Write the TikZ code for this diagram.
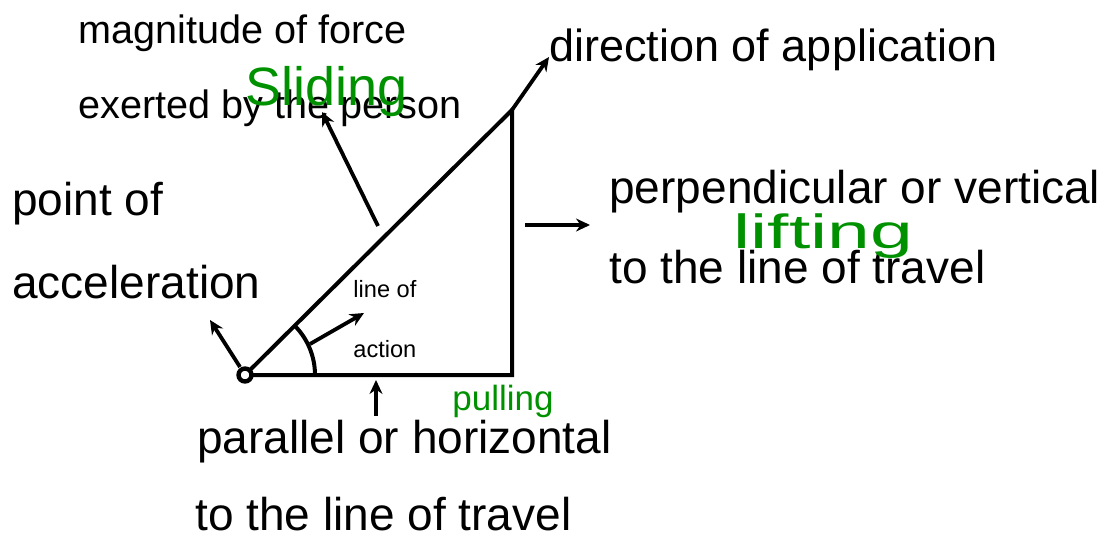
\documentclass[tikz,border=0pt]{standalone}
\usepackage{fontspec}
\setmainfont{Liberation Sans}
\usetikzlibrary{arrows.meta}
\definecolor{pen}{RGB}{0,145,0}
\begin{document}
\begin{tikzpicture}[x=0.5pt,y=-0.5pt,
  edge/.style={line width=2pt},
  arr/.style={line width=1.9pt,-{Stealth[length=7pt,width=6.5pt]}},
  lab/.style={anchor=base west,inner sep=0pt},
  bigtxt/.style={lab,font=\fontsize{23pt}{27pt}\selectfont},
  dirtxt/.style={lab,font=\fontsize{22.5pt}{26pt}\selectfont},
  midtxt/.style={lab,font=\fontsize{19.8pt}{23pt}\selectfont},
  smalltxt/.style={lab,font=\fontsize{11.8pt}{14pt}\selectfont},
  hand/.style={lab,text=pen}]
\useasboundingbox (0,0) rectangle (1112,540);
% triangle corners
\coordinate (O) at (245,375);
\coordinate (T) at (512,110);
\coordinate (B) at (512,375);
\draw[edge,line join=miter] (O) -- (T) -- (B) -- cycle;
% angle arc
\draw[edge] (O) ++(35pt,0pt) arc[start angle=0,end angle=45,radius=35pt];
\node[circle,draw,fill=white,line width=2.2pt,inner sep=0pt,minimum size=6.5pt] (pt) at (O) {};
% arrow anchor coordinates
\coordinate (pa0) at (240,367); \coordinate (pa1) at (210,320);
\coordinate (la0) at (310,344); \coordinate (la1) at (364,313);
\coordinate (ma0) at (378,226); \coordinate (ma1) at (322,112);
\coordinate (da1) at (549,57);
\coordinate (pe0) at (525,225); \coordinate (pe1) at (590,225);
\coordinate (pl0) at (376,416); \coordinate (pl1) at (376,380);
\draw[arr] (pa0) -- (pa1);
\draw[arr] (la0) -- (la1);
\draw[arr] (ma0) -- (ma1);
\draw[arr] (T) -- (da1);
\draw[arr] (pe0) -- (pe1);
\draw[arr] (pl0) -- (pl1);
% labels
\node[midtxt] (mag1) at (78,44) {magnitude of force};
\node[midtxt] (mag2) at (78,119) {exerted by the person};
\node[dirtxt] (dir) at (549,62) {direction of application};
\node[bigtxt] (poi) at (12,215) {point of};
\node[bigtxt] (acc) at (12,298) {acceleration};
\node[bigtxt] (per) at (609,203) {perpendicular or vertical};
\node[bigtxt] (per2) at (609,283) {to the line of travel};
\node[bigtxt] (par) at (197,453) {parallel or horizontal};
\node[bigtxt] (par2) at (195,530) {to the line of travel};
\node[smalltxt] (lo1) at (353,297) {line of};
\node[smalltxt] (lo2) at (353,357) {action};
% handwritten notes
\node[hand,font=\fontsize{27pt}{30pt}\selectfont] (sl) at (245,105) {Sliding};
\node[hand,font=\fontsize{24pt}{28pt}\selectfont,xscale=1.6] (li) at (733,248) {lifting};
\node[hand,font=\fontsize{17.5pt}{20pt}\selectfont] (pu) at (452,410) {pulling};
\end{tikzpicture}
\end{document}
